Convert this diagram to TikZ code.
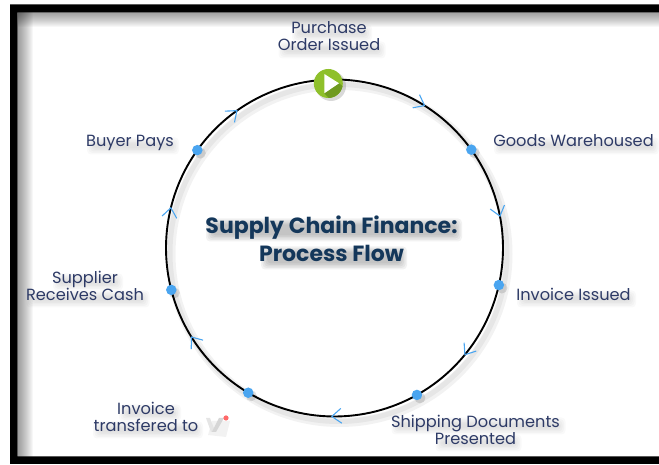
\documentclass[tikz,border=0pt]{standalone}
\usepackage{fontspec}
\setmainfont{Poppins}
\usetikzlibrary{calc}
\definecolor{labelblue}{HTML}{2D3A66}
\definecolor{titleblue}{HTML}{14375A}
\definecolor{dotblue}{HTML}{4AA5F0}
\definecolor{playgreen}{HTML}{8FC02B}
\definecolor{playdark}{HTML}{6F9A20}
\tikzset{
	ring/.style={line width=1.9pt,black},
	ringshade/.style={line width=5pt,black,opacity=.05},
	chevron/.style={draw=dotblue,line width=1.1pt},
	dot/.style={circle,fill=dotblue,minimum size=10.5pt,inner sep=0pt},
	lbl/.style={align=center,text=labelblue,font=\fontsize{16.2}{17}\selectfont,inner sep=0pt},
	ttl/.style={align=center,text=titleblue,font=\fontsize{22}{28}\selectfont\bfseries,inner sep=0pt},
}
% soft grey patch under one line of text: centre x, centre y, width, height, opacity
\newcommand\softline[5]{
	\foreach \d in {0,1.5,...,6}
		\fill[black,opacity=#5,rounded corners=4pt] (#1+3-#3/2-\d+4,#2-5-#4/2-\d+2) rectangle (#1+3+#3/2+\d-4,#2-5+#4/2+\d-2);
}
\begin{document}
\begin{tikzpicture}[x=1pt,y=1pt]
	\useasboundingbox (0,0) rectangle (659,465);
	\def\r{168.5}
	% frame
	\foreach \d in {1,...,15}{
		\fill[black,opacity=.03] (17.5,452.5) rectangle (659,452.5-\d);
		\fill[black,opacity=.03] (17.5,452.5) rectangle (17.5+\d,8);
	}
	\fill[black] (10,1) rectangle (659,8.5) (10,1) rectangle (17.5,460.5) (10,452.5) rectangle (659,460.5);
	% soft patches under the texts
	\foreach \cx/\cy/\w in {329/437/76,329/420/103,573.5/324/161,573.5/171/115,475.5/44/170,475.5/27/82,147/57/58,145/40/106,85/188/66,85/171/119,130/324/88}{
		\softline{\cx}{\cy}{\w}{9}{.022}
	}
	\softline{331}{240}{252}{15}{.05}
	\softline{331}{212}{142}{15}{.05}
	% ring
	\begin{scope}[shift={(334.5,217)}]
		\foreach \x/\a in {start/92,goods/35.7,invoice/-12.7,shipping/-60.7,transfer/-120.8,supplier/-165.6,buyer/-215.5}
			\coordinate (\x) at (\a:\r);
		\draw[ringshade] (4,-5) circle (\r);
		\draw[ringshade,line width=9pt] (5,-6) circle (\r);
		\foreach \x/\a/\b in {start/92/35.7,goods/35.7/-12.7,invoice/-12.7/-60.7,shipping/-60.7/-120.8,transfer/-120.8/-165.6,supplier/-165.6/-215.5,buyer/-215.5/-268}
			\draw[ring] (\x) arc (\a:\b:\r);
		\foreach \a in {57.7,10.9,-39.3,-90.9,-148.1,-193.8,-234.6}
			\draw[chevron] (\a:\r) ++(\a+133:12) -- (\a:\r) -- ++(\a+57:12);
		\foreach \x in {goods,invoice,shipping,transfer,supplier,buyer}{
			\fill[black,opacity=.12] ($(\x)+(3,-3)$) circle (5.5);
			\node[dot] (\x-dot) at (\x) {};
		}
	\end{scope}
	% play button
	\fill[black,opacity=.15] (331,379) circle (15);
	\node[circle,fill=playgreen,minimum size=29pt,inner sep=0pt] (play) at (328.3,381.5) {};
	\begin{scope}
		\clip (328.3,381.5) circle (14.5);
		\fill[playdark] (339,381.7) -- (324.3,371.7) -- (340,355) -- (355,370) -- cycle;
	\end{scope}
	\fill[white] (324.3,391) -- (339,381.7) -- (324.3,371.7) -- cycle;
	% logo
	\fill[black!5] (208,30) -- (226,28) -- (230,44) -- (212,44) -- cycle;
	\fill[black!10] (206,47) -- (210,47) -- (215,34) -- (211,33) -- cycle;
	\fill[black!16] (212,33) -- (216,33) -- (224,47) -- (219,47) -- cycle;
	\fill[red!65,opacity=.9] (226,47) circle (2.6);
	% labels
	\foreach \n/\x/\y/\t in {purchase/329/428.5/{Purchase\\Order Issued},
		goods/573.5/324/{Goods Warehoused},
		invoice/573.5/171/{Invoice Issued},
		shipping/475.5/35.5/{Shipping Documents\\Presented},
		transfer/146/48.5/{Invoice\\transfered to},
		supplier/85/179.5/{Supplier\\Receives Cash},
		buyer/130/322.5/{Buyer Pays}}
		\node[lbl] (\n) at (\x,\y) {\t};
	\node[ttl] (title) at (331.5,226.5) {Supply Chain Finance:\\Process Flow};
\end{tikzpicture}
\end{document}
